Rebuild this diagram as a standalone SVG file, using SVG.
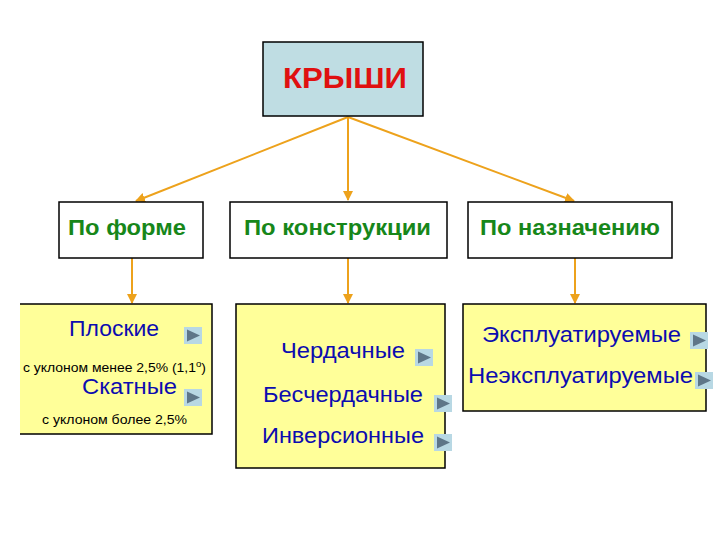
<svg xmlns="http://www.w3.org/2000/svg" width="720" height="540" viewBox="0 0 720 540">
<style>
.box{stroke:#000;stroke-width:1.5}
.cat{fill:#fff}
.yel{fill:#FFFF99}
.grn{font-family:"Liberation Sans",Arial,sans-serif;font-weight:bold;font-size:22px;fill:#17871A}
.blu{font-family:"Liberation Sans",Arial,sans-serif;font-size:22px;fill:#0C0CB0}
.sm{font-family:"Liberation Sans",Arial,sans-serif;font-size:13px;fill:#000}
.con{stroke:#EDA21C;stroke-width:2;fill:none}
.btnbg{fill:#B8D8E4}
.btntri{fill:#5E7688}
</style>
<defs>
<marker id="arr" viewBox="0 0 10 10" refX="9" refY="5" markerWidth="5" markerHeight="5" orient="auto">
<path d="M0,0 L10,5 L0,10 z" fill="#EDA21C"/>
</marker>
<g id="btn">
<rect class="btnbg" x="0" y="0" width="18" height="17"/>
<path class="btntri" d="M3,2.5 L16,8.5 L3,14.5 z"/>
</g>
</defs>
<rect width="720" height="540" fill="#fff"/>

<g id="connectors">
<line class="con" x1="348" y1="117" x2="136" y2="201" marker-end="url(#arr)"/>
<line class="con" x1="348" y1="117" x2="348" y2="200" marker-end="url(#arr)"/>
<line class="con" x1="348" y1="117" x2="574" y2="201" marker-end="url(#arr)"/>
<line class="con" x1="132" y1="258" x2="132" y2="303" marker-end="url(#arr)"/>
<line class="con" x1="348" y1="258" x2="348" y2="303" marker-end="url(#arr)"/>
<line class="con" x1="575" y1="258" x2="575" y2="303" marker-end="url(#arr)"/>
</g>

<g id="root">
<rect class="box" x="263" y="42" width="160" height="74" fill="#BFDDE3"/>
<text x="345" y="88" text-anchor="middle" font-family="'Liberation Sans',Arial,sans-serif" font-weight="bold" font-size="29" fill="#E01010" textLength="124" lengthAdjust="spacingAndGlyphs">КРЫШИ</text>
</g>

<g id="po-forme">
<rect class="box cat" x="59" y="202" width="144" height="56"/>
<text class="grn" x="68" y="235" textLength="118" lengthAdjust="spacingAndGlyphs">По форме</text>
</g>
<g id="po-konstrukcii">
<rect class="box cat" x="230" y="202" width="217" height="56"/>
<text class="grn" x="244" y="235" textLength="187" lengthAdjust="spacingAndGlyphs">По конструкции</text>
</g>
<g id="po-naznacheniyu">
<rect class="box cat" x="468" y="202" width="204" height="56"/>
<text class="grn" x="480" y="235" textLength="180" lengthAdjust="spacingAndGlyphs">По назначению</text>
</g>

<g id="forma-list">
<rect class="yel" x="20" y="304" width="192" height="130"/>
<path d="M20,304 H212 V434 H20" fill="none" stroke="#000" stroke-width="1.5"/>
<text class="blu" x="69" y="336" textLength="90" lengthAdjust="spacingAndGlyphs">Плоские</text>
<use href="#btn" x="184" y="327"/>
<text class="sm" x="23" y="372" textLength="183" lengthAdjust="spacingAndGlyphs">с уклоном менее 2,5% (1,1<tspan dy="-5" font-size="9">о</tspan><tspan dy="5">)</tspan></text>
<text class="blu" x="82" y="394" textLength="95" lengthAdjust="spacingAndGlyphs">Скатные</text>
<use href="#btn" x="184" y="389"/>
<text class="sm" x="42" y="424" textLength="145" lengthAdjust="spacingAndGlyphs">с уклоном более 2,5%</text>
</g>

<g id="konstr-list">
<rect class="box yel" x="236" y="304" width="209" height="164"/>
<text class="blu" x="281" y="358" textLength="124" lengthAdjust="spacingAndGlyphs">Чердачные</text>
<use href="#btn" x="415" y="349"/>
<text class="blu" x="263" y="402" textLength="160" lengthAdjust="spacingAndGlyphs">Бесчердачные</text>
<use href="#btn" x="434" y="395"/>
<text class="blu" x="262" y="443" textLength="162" lengthAdjust="spacingAndGlyphs">Инверсионные</text>
<use href="#btn" x="434" y="434"/>
</g>

<g id="nazn-list">
<rect class="box yel" x="463" y="304" width="243" height="107"/>
<text class="blu" x="482" y="342" textLength="199" lengthAdjust="spacingAndGlyphs">Эксплуатируемые</text>
<use href="#btn" x="690" y="332"/>
<text class="blu" x="468" y="383" textLength="225" lengthAdjust="spacingAndGlyphs">Неэксплуатируемые</text>
<use href="#btn" x="695" y="372"/>
</g>
</svg>
